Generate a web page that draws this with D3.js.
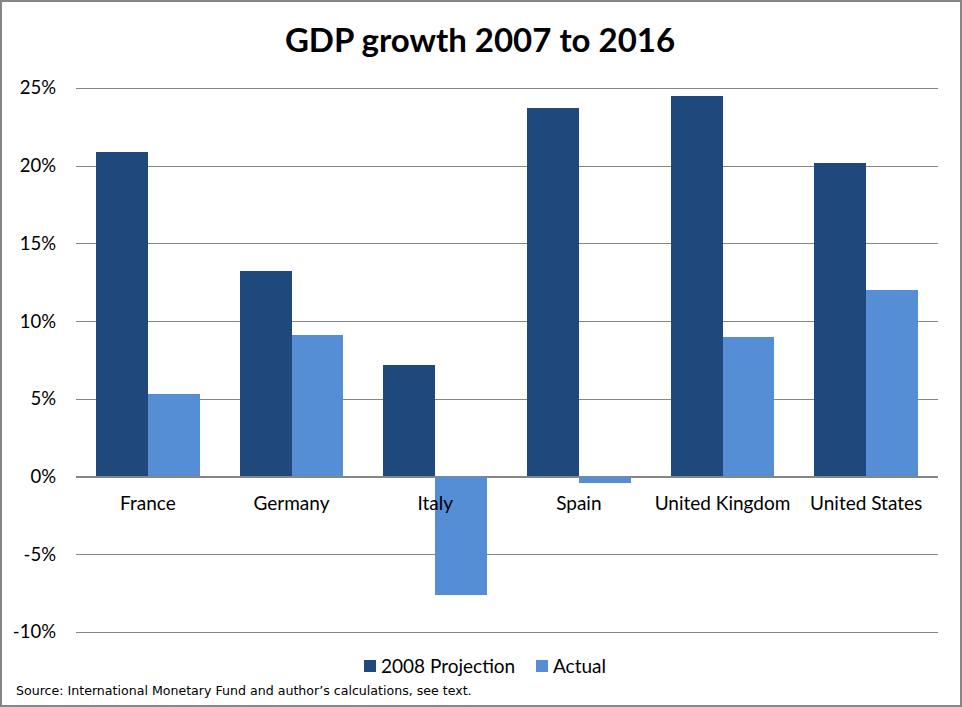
<!DOCTYPE html>
<html><head><meta charset="utf-8">
<script src="https://cdn.jsdelivr.net/npm/d3@7"></script>
<style>body{margin:0;background:#fff}svg{display:block}</style>
</head><body>
<script>
const categories = ["France","Germany","Italy","Spain","United Kingdom","United States"];
const seriesNames = ["2008 Projection","Actual"];
const projection = [20.9, 13.2, 7.2, 23.7, 24.5, 20.2];
const actual = [5.3, 9.1, -7.6, -0.4, 9.0, 12.0];
const yTicks = [-10,-5,0,5,10,15,20,25];
const colors = ["#1F497D","#558ED5"];

const W=962,H=707;
const svg=d3.select("body").append("svg").attr("width",W).attr("height",H);
svg.append("rect").attr("x",1).attr("y",1).attr("width",W-2).attr("height",H-2)
  .attr("fill","#fff").attr("stroke","#868686").attr("stroke-width",2);

const left=76,right=938;
const y=d3.scaleLinear().domain([-10,25]).range([632,88]);
const x=d3.scaleBand().domain(categories).range([left,right]).paddingInner(0.28).paddingOuter(0.14);
const x1=d3.scaleBand().domain(seriesNames).range([0,x.bandwidth()]);

svg.append("text").attr("x",480).attr("y",52).attr("text-anchor","middle")
  .attr("font-family","Lato, 'Open Sans', sans-serif").attr("font-weight","bold")
  .attr("font-size",33).text("GDP growth 2007 to 2016");

const yAxis=d3.axisLeft(y).tickValues(yTicks).tickSize(-(right-left)).tickPadding(20)
  .tickFormat(d=>d+"%");
const ga=svg.append("g").attr("transform",`translate(${left},0)`).call(yAxis);
ga.select(".domain").remove();
ga.selectAll(".tick line").attr("stroke","#868686").attr("shape-rendering","crispEdges");
ga.selectAll(".tick text").attr("font-family","Lato, 'Open Sans', sans-serif").attr("font-size",18.5).attr("fill","#000");

const data=categories.map((c,i)=>({c,vals:[projection[i],actual[i]]}));
const g=svg.append("g");
data.forEach(d=>{
  d.vals.forEach((v,j)=>{
    g.append("rect").attr("x",x(d.c)+x1(seriesNames[j])).attr("width",x1.bandwidth())
      .attr("y",y(Math.max(0,v))).attr("height",Math.abs(y(v)-y(0)))
      .attr("fill",colors[j]).attr("shape-rendering","crispEdges");
  });
});
svg.append("line").attr("x1",left).attr("x2",right).attr("y1",y(0)).attr("y2",y(0))
  .attr("stroke","#868686").attr("shape-rendering","crispEdges");

const xAxis=d3.axisBottom(x).tickSize(0).tickPadding(20);
const gx=svg.append("g").attr("transform",`translate(0,${y(0)})`).call(xAxis);
gx.select(".domain").remove();
gx.selectAll(".tick text").attr("font-family","Lato, 'Open Sans', sans-serif").attr("font-size",19).attr("fill","#000");

const leg=svg.append("g");
const legX=[364,536];
seriesNames.forEach((s,i)=>{
  leg.append("rect").attr("x",legX[i]).attr("y",660).attr("width",12).attr("height",12).attr("fill",colors[i]);
  leg.append("text").attr("x",legX[i]+17).attr("y",673).attr("font-family","Lato, 'Open Sans', sans-serif")
    .attr("font-size",19).text(s);
});

svg.append("text").attr("x",16).attr("y",695).attr("font-family","'DejaVu Sans', Verdana, sans-serif")
  .attr("font-size",12.6).text("Source: International Monetary Fund and author\u2019s calculations, see text.");
</script>
</body></html>
